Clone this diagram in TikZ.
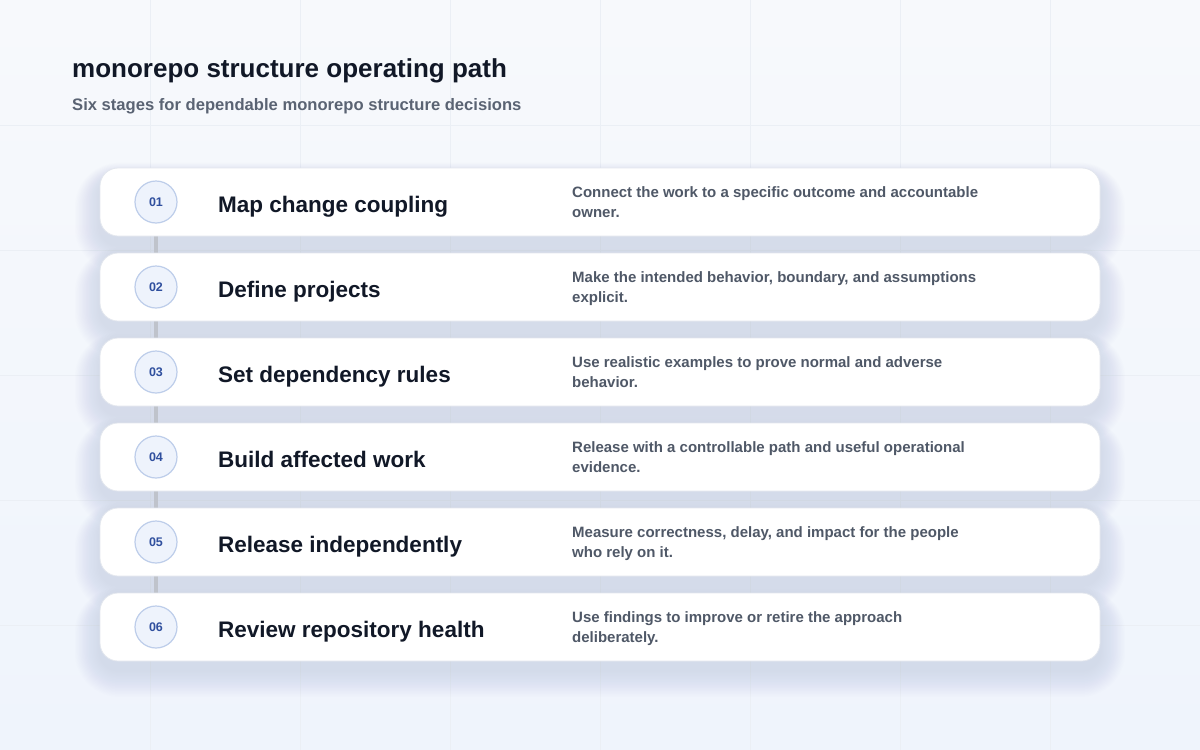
\documentclass[tikz,border=0pt]{standalone}
\usepackage{fontspec}
\setmainfont{Liberation Sans}
\definecolor{bgtop}{HTML}{F7F9FC}
\definecolor{bgbot}{HTML}{EFF4FC}
\definecolor{gridc}{HTML}{EBEFF5}
\definecolor{shadowc}{HTML}{8690AC}
\definecolor{cardline}{HTML}{E3E7EE}
\definecolor{circfill}{HTML}{EEF3FC}
\definecolor{circline}{HTML}{BDCDEA}
\definecolor{numc}{HTML}{2F4F9E}
\definecolor{titlec}{HTML}{111827}
\definecolor{descc}{HTML}{4F5867}
\definecolor{subc}{HTML}{5A6373}
\definecolor{connc}{HTML}{BFC3CB}
\pgfdeclarelayer{bglayer}
\pgfdeclarelayer{shadowlayer}
\pgfdeclarelayer{connlayer}
\pgfsetlayers{bglayer,shadowlayer,connlayer,main}
\begin{document}
\begin{tikzpicture}[x=1pt,y=-1pt,
  cardbox/.style={draw=cardline,line width=0.8pt,fill=white,rounded corners=18pt,minimum width=1000pt,minimum height=68pt,inner sep=0pt},
  numcirc/.style={circle,draw=circline,line width=1.2pt,fill=circfill,minimum size=42pt,inner sep=0pt,font=\bfseries\fontsize{12.5}{12}\selectfont,text=numc},
  stagetitle/.style={anchor=base west,inner sep=0pt,font=\bfseries\fontsize{22.5}{26}\selectfont,text=titlec},
  stagedesc/.style={anchor=north west,inner sep=0pt,align=left,font=\bfseries\fontsize{15}{20}\selectfont,text=descc},
  conn/.style={draw=connc,line width=3.5pt}]
\useasboundingbox (0,0) rectangle (1200,750);
\begin{pgfonlayer}{bglayer}
\shade[top color=bgtop,bottom color=bgbot] (0,0) rectangle (1200,750);
\foreach \gx in {150,300,...,1050} \draw[gridc,line width=0.7pt] (\gx,0) -- (\gx,750);
\foreach \gy in {125,250,...,625} \draw[gridc,line width=0.7pt] (0,\gy) -- (1200,\gy);
\end{pgfonlayer}
\node[anchor=base west,inner sep=0pt,font=\bfseries\fontsize{26}{30}\selectfont,text=titlec] (head) at (72,77) {monorepo structure operating path};
\node[anchor=base west,inner sep=0pt,font=\bfseries\fontsize{16.6}{20}\selectfont,text=subc] (sub) at (72,110) {Six stages for dependable monorepo structure decisions};
\foreach \i/\t/\da/\db in {
 1/Map change coupling/Connect the work to a specific outcome and accountable/owner.,
 2/Define projects/{Make the intended behavior, boundary, and assumptions}/explicit.,
 3/Set dependency rules/Use realistic examples to prove normal and adverse/behavior.,
 4/Build affected work/Release with a controllable path and useful operational/evidence.,
 5/Release independently/{Measure correctness, delay, and impact for the people}/who rely on it.,
 6/Review repository health/Use findings to improve or retire the approach/deliberately.}{
  \pgfmathsetmacro{\yc}{202+85*(\i-1)}
  \begin{pgfonlayer}{shadowlayer}
  \foreach \s in {1,...,18}{
    \fill[shadowc,opacity=0.012,rounded corners={18pt+\s*1.5pt}] (100-\s*1.4,\yc-34-\s*0.8+9) rectangle (1100+\s*1.4,\yc+34+\s*1.5+9);
  }
  \end{pgfonlayer}
  \node[cardbox] (c\i) at (600,\yc) {};
  \node[numcirc] (n\i) at (156,\yc) {0\i};
  \node[stagetitle] (t\i) at (218,\yc+10.5) {\t};
  \node[stagedesc] (d\i) at (572,\yc-16) {\da\\\db};
}
\begin{pgfonlayer}{connlayer}
\foreach \i [evaluate=\i as \j using int(\i+1)] in {1,...,5} \draw[conn] (n\i) -- (n\j);
\end{pgfonlayer}
\end{tikzpicture}
\end{document}
